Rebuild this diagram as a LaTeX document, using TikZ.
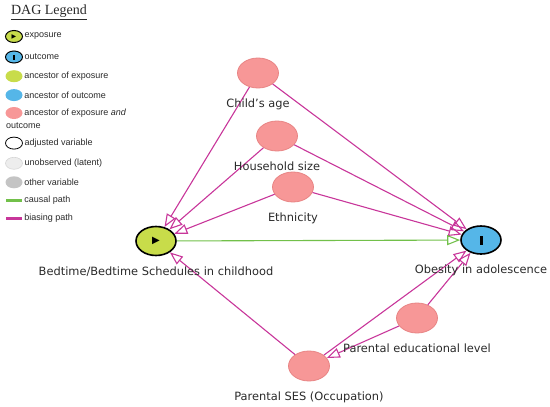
\documentclass[tikz,border=0pt]{standalone}
\usepackage{fontspec}
\setmainfont{DejaVu Sans}
\newfontfamily\legendfont{Liberation Sans}
\newfontfamily\titlefont{Liberation Serif}
\usetikzlibrary{positioning, arrows.meta, shapes.geometric}
\definecolor{PinkA}{HTML}{E88484}
\definecolor{PinkB}{HTML}{F79797}
\definecolor{LimeB}{HTML}{C8DC4A}
\definecolor{SkyB}{HTML}{55B6E8}
\definecolor{BiasA}{HTML}{C8369A}
\definecolor{CausalA}{HTML}{72C04A}
\definecolor{GrayL}{HTML}{EDEDED}
\definecolor{GrayM}{HTML}{C4C4C4}
\definecolor{InkA}{HTML}{2A2A2A}
\tikzset{
  var/.style={ellipse, minimum width=41pt, minimum height=30pt, inner sep=0pt},
  anc/.style={var, fill=PinkB, draw=PinkA, line width=0.8pt},
  expo/.style={var, fill=LimeB, draw=black, line width=1.6pt, minimum width=40pt, minimum height=29pt},
  outc/.style={var, fill=SkyB, draw=black, line width=1.6pt, minimum width=40pt, minimum height=28pt},
  lbl/.style={font=\fontsize{11.4}{13}\selectfont, text=InkA, inner sep=0pt},
  bias/.style={draw=BiasA, line width=1.1pt, -{Triangle[open, length=13pt, width=10pt]}},
  causal/.style={draw=CausalA, line width=1.1pt, -{Triangle[open, length=13pt, width=10pt]}},
  key/.style={ellipse, minimum width=17pt, minimum height=12pt, inner sep=0pt},
  keybar/.style={rectangle, minimum width=16pt, minimum height=3pt, inner sep=0pt},
  keytext/.style={font=\legendfont\fontsize{9}{10}\selectfont, text=InkA, inner sep=0pt, anchor=west}
}
\begin{document}
\begin{tikzpicture}[x=1pt, y=-1pt, node distance=6.5pt]
  \useasboundingbox (0,0) rectangle (550,407);

  % legend
  \node[font=\titlefont\fontsize{14}{15}\selectfont, text=InkA, inner sep=0pt] (title) at (49,12) {\underline{DAG Legend}};
  \node[key, fill=LimeB, draw=black, line width=1pt, font=\fontsize{6}{6}\selectfont] (kexpo) at (14,36.5) {▶};
  \node[key, fill=SkyB, draw=black, line width=1pt, below=7.5pt of kexpo] (koutc) {\rule{1.5pt}{5pt}};
  \node[key, fill=LimeB, below=of koutc] (kancexpo) {};
  \node[key, fill=SkyB, below=of kancexpo] (kancoutc) {};
  \node[key, fill=PinkB, below=5.5pt of kancoutc] (kboth) {};
  \node[key, draw=black, line width=0.8pt, below=17.5pt of kboth] (kadj) {};
  \node[key, fill=GrayL, draw=GrayM!70, line width=0.6pt, below=7.5pt of kadj] (klat) {};
  \node[key, fill=GrayM, below=of klat] (kother) {};
  \node[keybar, fill=CausalA, below=10pt of kother] (kcausal) {};
  \node[keybar, fill=BiasA, below=15pt of kcausal] (kbias) {};

  \node[keytext, right=1.5pt of kexpo] (texpo) {exposure};
  \node[keytext, right=1.5pt of koutc] (toutc) {outcome};
  \node[keytext, right=1.5pt of kancexpo] (tancexpo) {ancestor of exposure};
  \node[keytext, right=1.5pt of kancoutc] (tancoutc) {ancestor of outcome};
  \node[keytext, right=1.5pt of kboth] (tboth) {ancestor of exposure \textit{and}};
  \node[keytext] (tboth2) at (6,126) {outcome};
  \node[keytext, right=1.5pt of kadj] (tadj) {adjusted variable};
  \node[keytext, right=1.5pt of klat] (tlat) {unobserved (latent)};
  \node[keytext, right=1.5pt of kother] (tother) {other variable};
  \node[keytext, right=2pt of kcausal] (tcausal) {causal path};
  \node[keytext, right=2pt of kbias] (tbias) {biasing path};

  % variables
  \node[anc] (age) at (258,73) {};
  \node[anc] (house) at (277,136) {};
  \node[anc] (ethn) at (293,187) {};
  \node[expo, font=\fontsize{10}{10}\selectfont] (bed) at (156,241) {▶};
  \node[outc] (obes) at (481,240) {\rule{3pt}{9pt}};
  \node[anc] (edu) at (417,318) {};
  \node[anc] (ses) at (309,366) {};

  % paths
  \draw[bias] (age) -- (bed);
  \draw[bias] (age) -- (obes);
  \draw[bias] (house) -- (bed);
  \draw[bias] (house) -- (obes);
  \draw[bias] (ethn) -- (bed);
  \draw[bias] (ethn) -- (obes);
  \draw[bias] (ses) -- (bed);
  \draw[bias] (ses) -- (obes);
  \draw[bias] (edu) -- (obes);
  \draw[bias] (edu) -- (ses);
  \draw[causal] (bed) -- (obes);

  % labels
  \node[lbl, below=10pt of age] (agelbl) {Child's age};
  \node[lbl, below=10pt of house] (houselbl) {Household size};
  \node[lbl, below=10pt of ethn] (ethnlbl) {Ethnicity};
  \node[lbl, below=10pt of bed] (bedlbl) {Bedtime/Bedtime Schedules in childhood};
  \node[lbl, below=10pt of obes] (obeslbl) {Obesity in adolescence};
  \node[lbl, below=10pt of edu] (edulbl) {Parental educational level};
  \node[lbl, below=10pt of ses] (seslbl) {Parental SES (Occupation)};
\end{tikzpicture}
\end{document}
